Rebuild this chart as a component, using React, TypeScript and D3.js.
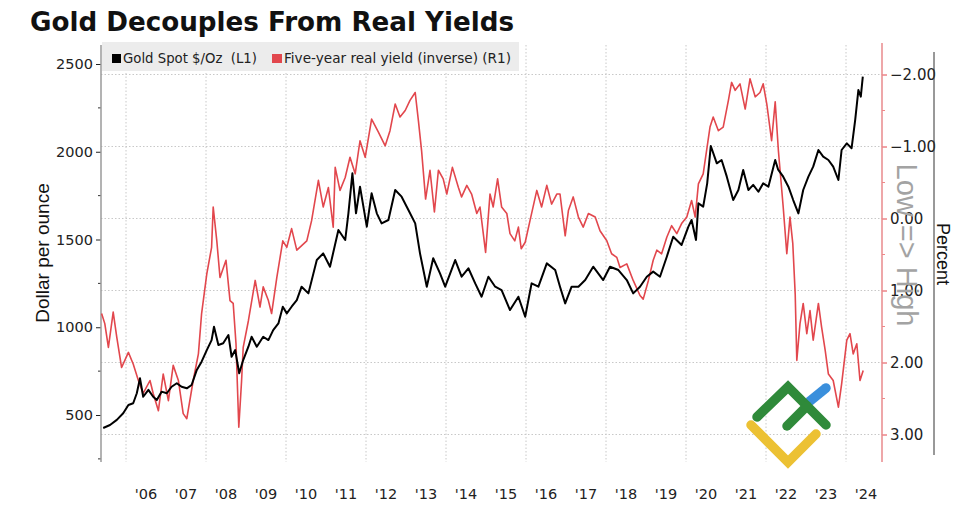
import * as d3 from "d3";
import { useEffect, useRef } from "react";

// Gold spot, $/oz (left axis) - decimal year / price
const goldDates = [
  2005.43, 2005.6, 2005.77, 2005.93, 2006.06, 2006.18, 2006.27, 2006.35, 2006.43, 2006.56,
  2006.68, 2006.77, 2006.89, 2007.02, 2007.14, 2007.27, 2007.39, 2007.52, 2007.64, 2007.77,
  2007.89, 2008.02, 2008.14, 2008.2, 2008.31, 2008.43, 2008.56, 2008.64, 2008.73, 2008.83,
  2008.93, 2009.06, 2009.14, 2009.27, 2009.43, 2009.56, 2009.68, 2009.81, 2009.92, 2010.02,
  2010.14, 2010.27, 2010.39, 2010.56, 2010.77, 2010.93, 2011.1, 2011.31, 2011.48, 2011.56,
  2011.66, 2011.75, 2011.85, 2012.02, 2012.14, 2012.27, 2012.39, 2012.56, 2012.73, 2012.89,
  2013.06, 2013.23, 2013.35, 2013.52, 2013.68, 2013.85, 2013.98, 2014.23, 2014.39, 2014.56,
  2014.73, 2014.89, 2015.06, 2015.23, 2015.39, 2015.6, 2015.81, 2015.98, 2016.14, 2016.31,
  2016.52, 2016.73, 2016.85, 2016.98, 2017.14, 2017.31, 2017.48, 2017.68, 2017.93, 2018.1,
  2018.31, 2018.52, 2018.68, 2018.85, 2019.02, 2019.18, 2019.35, 2019.52, 2019.68, 2019.89,
  2020.06, 2020.14, 2020.25, 2020.31, 2020.43, 2020.53, 2020.62, 2020.77, 2020.89, 2021.02,
  2021.18, 2021.31, 2021.43, 2021.56, 2021.68, 2021.81, 2021.93, 2022.06, 2022.23, 2022.3,
  2022.43, 2022.56, 2022.68, 2022.81, 2022.93, 2023.06, 2023.18, 2023.31, 2023.43, 2023.56,
  2023.68, 2023.81, 2023.89, 2024.02, 2024.14, 2024.23, 2024.31, 2024.37, 2024.42,
];
const goldPrices = [
  426, 443, 472, 510, 557, 567, 624, 709, 604, 643,
  604, 585, 633, 624, 661, 681, 661, 652, 671, 757,
  804, 870, 927, 1003, 899, 909, 956, 832, 870, 738,
  813, 889, 946, 889, 946, 927, 984, 1022, 1117, 1079,
  1117, 1155, 1231, 1193, 1383, 1421, 1345, 1554, 1497, 1649,
  1877, 1649, 1801, 1573, 1763, 1649, 1592, 1611, 1782, 1744,
  1668, 1592, 1421, 1231, 1393, 1307, 1231, 1383, 1288, 1336,
  1250, 1174, 1288, 1231, 1212, 1098, 1174, 1060, 1250, 1231,
  1364, 1326, 1231, 1136, 1231, 1231, 1269, 1345, 1269, 1345,
  1326, 1269, 1193, 1231, 1288, 1317, 1288, 1402, 1516, 1469,
  1573, 1611, 1497, 1706, 1687, 1820, 2033, 1934, 1953, 1858,
  1725, 1782, 1896, 1782, 1811, 1772, 1820, 1801, 1953, 1900,
  1858, 1801, 1725, 1649, 1782, 1858, 1915, 2010, 1972, 1953,
  1915, 1839, 2010, 2048, 2020, 2181, 2352, 2314, 2428,
];

// Five-year real yield, percent (right axis, inverted)
const yieldDates = [
  2005.39, 2005.47, 2005.56, 2005.68, 2005.77, 2005.89, 2006.06, 2006.18, 2006.31, 2006.43,
  2006.6, 2006.68, 2006.81, 2006.93, 2007.06, 2007.18, 2007.31, 2007.43, 2007.52, 2007.68,
  2007.81, 2007.89, 2008.02, 2008.14, 2008.18, 2008.27, 2008.35, 2008.5, 2008.6, 2008.68,
  2008.75, 2008.82, 2008.89, 2008.93, 2009.06, 2009.23, 2009.35, 2009.43, 2009.56, 2009.64,
  2009.77, 2009.92, 2010.02, 2010.14, 2010.27, 2010.52, 2010.64, 2010.81, 2010.93, 2011.06,
  2011.18, 2011.23, 2011.35, 2011.48, 2011.6, 2011.73, 2011.85, 2011.98, 2012.14, 2012.31,
  2012.48, 2012.6, 2012.73, 2012.85, 2012.98, 2013.1, 2013.23, 2013.31, 2013.39, 2013.49,
  2013.6, 2013.71, 2013.81, 2013.93, 2014.02, 2014.16, 2014.31, 2014.39, 2014.52, 2014.64,
  2014.77, 2014.85, 2014.99, 2015.1, 2015.18, 2015.29, 2015.39, 2015.52, 2015.6, 2015.72,
  2015.81, 2015.88, 2015.98, 2016.1, 2016.27, 2016.39, 2016.52, 2016.64, 2016.77, 2016.85,
  2016.98, 2017.06, 2017.18, 2017.31, 2017.43, 2017.56, 2017.73, 2017.85, 2018.02, 2018.14,
  2018.27, 2018.35, 2018.52, 2018.68, 2018.85, 2018.93, 2019.06, 2019.18, 2019.27, 2019.39,
  2019.52, 2019.64, 2019.77, 2019.89, 2020.02, 2020.14, 2020.23, 2020.31, 2020.43, 2020.6,
  2020.68, 2020.81, 2020.93, 2021.06, 2021.14, 2021.23, 2021.35, 2021.48, 2021.6, 2021.73,
  2021.85, 2021.93, 2022.02, 2022.14, 2022.23, 2022.31, 2022.43, 2022.52, 2022.6, 2022.67,
  2022.73, 2022.77, 2022.85, 2022.93, 2023.02, 2023.1, 2023.18, 2023.31, 2023.39, 2023.48,
  2023.56, 2023.68, 2023.81, 2023.89, 2024.02, 2024.1, 2024.18, 2024.27, 2024.35, 2024.43,
];
const yieldValues = [
  1.32, 1.46, 1.79, 1.3, 1.65, 2.07, 1.86, 2.02, 2.25, 2.43,
  2.25, 2.43, 2.67, 2.16, 2.53, 2.04, 2.25, 2.71, 2.78, 2.25,
  1.88, 1.32, 0.77, 0.4, -0.16, 0.31, 0.82, 0.58, 1.14, 1.18,
  1.74, 2.9, 2.25, 1.79, 1.42, 0.86, 1.23, 0.95, 1.14, 1.32,
  0.82, 0.31, 0.4, 0.14, 0.44, 0.31, 0.03, -0.53, -0.16, -0.43,
  0.12, -0.71, -0.39, -0.57, -0.85, -0.62, -1.08, -0.85, -1.38, -1.2,
  -1.01, -1.22, -1.59, -1.41, -1.5, -1.64, -1.75, -1.36, -0.94, -0.27,
  -0.67, -0.09, -0.67, -0.55, -0.34, -0.71, -0.43, -0.3, -0.46, -0.34,
  -0.07, -0.16, 0.47, -0.34, -0.16, -0.55, -0.16, -0.07, 0.21, 0.31,
  0.12, 0.42, 0.33, 0.03, -0.39, -0.16, -0.46, -0.2, -0.34, -0.34,
  0.24, -0.11, -0.3, -0.02, 0.12, -0.07, -0.02, 0.17, 0.31, 0.49,
  0.54, 0.68, 0.63, 0.86, 1.07, 1.12, 0.86, 0.58, 0.44, 0.49,
  0.26, 0.1, 0.21, 0.07, -0.02, -0.25, -0.02, -0.48, -0.62, -1.27,
  -1.41, -1.22, -1.27, -1.64, -1.89, -1.78, -1.87, -1.52, -1.94, -1.69,
  -1.75, -1.87, -1.59, -1.08, -1.62, -0.94, -0.16, 0.49, -0.02, 0.35,
  1.05, 1.97, 1.46, 1.18, 1.6, 1.28, 1.69, 1.18, 1.51, 1.83,
  2.16, 2.25, 2.62, 2.3, 1.69, 1.6, 1.88, 1.74, 2.25, 2.11,
];

const yearLabels = ["'06", "'07", "'08", "'09", "'10", "'11", "'12", "'13", "'14", "'15",
  "'16", "'17", "'18", "'19", "'20", "'21", "'22", "'23", "'24"];
const gridYears = [2006, 2008, 2010, 2012, 2014, 2016, 2018, 2020, 2022, 2024];
const leftTicks = [500, 1000, 1500, 2000, 2500];
const leftMinor = [250, 750, 1250, 1750, 2250];
const rightTicks = [-2, -1, 0, 1, 2, 3];
const rightMinor = [-1.5, -0.5, 0.5, 1.5, 2.5];

const W = 966, H = 506;
const plot = { left: 101, right: 882, top: 45, bottom: 462 };
const RED = "#e2474d";
const FONT = "'DejaVu Sans', Verdana, sans-serif";

function Chart() {
  const ref = useRef<SVGSVGElement | null>(null);

  useEffect(() => {
    if (!ref.current) return;
    const svg = d3.select(ref.current);
    svg.selectAll("*").remove();

    const x = d3.scaleLinear().domain([2005.375, 2024.9]).range([plot.left, plot.right]);
    const yL = d3.scaleLinear().domain([500, 2500]).range([415, 64]);
    const yR = d3.scaleLinear().domain([-2, 3]).range([74.5, 434.5]);

    svg.append("rect").attr("width", W).attr("height", H).attr("fill", "#fff");

    // title
    svg.append("text")
      .attr("x", 30).attr("y", 31)
      .attr("font-family", FONT).attr("font-weight", "bold").attr("font-size", 26)
      .attr("textLength", 484).attr("lengthAdjust", "spacingAndGlyphs")
      .attr("fill", "#111")
      .text("Gold Decouples From Real Yields");

    // grid
    const grid = svg.append("g").attr("stroke", "#c8c8c8").attr("stroke-dasharray", "1.5,2").attr("stroke-width", 1);
    grid.selectAll("line.v").data(gridYears).join("line")
      .attr("x1", d => x(d)).attr("x2", d => x(d))
      .attr("y1", plot.top).attr("y2", plot.bottom);
    grid.selectAll("line.h").data(rightTicks).join("line")
      .attr("x1", plot.left).attr("x2", plot.right)
      .attr("y1", d => yR(d)).attr("y2", d => yR(d));

    // legend box
    const lg = svg.append("g");
    lg.append("rect").attr("x", 102).attr("y", 42).attr("width", 417).attr("height", 29).attr("fill", "#ececec");
    lg.append("rect").attr("x", 112).attr("y", 54).attr("width", 9).attr("height", 9).attr("fill", "#000");
    lg.append("text").attr("x", 123).attr("y", 63).attr("font-family", FONT).attr("font-size", 13.5)
      .attr("textLength", 134).attr("lengthAdjust", "spacingAndGlyphs")
      .attr("fill", "#222").attr("xml:space", "preserve").text("Gold Spot $/Oz  (L1)");
    lg.append("rect").attr("x", 272).attr("y", 54).attr("width", 10).attr("height", 9).attr("fill", RED);
    lg.append("text").attr("x", 284).attr("y", 63).attr("font-family", FONT).attr("font-size", 13.5)
      .attr("textLength", 227).attr("lengthAdjust", "spacingAndGlyphs")
      .attr("fill", "#222").text("Five-year real yield (inverse) (R1)");

    // left axis
    const la = svg.append("g").attr("transform", `translate(${plot.left},0)`);
    la.call(d3.axisLeft(yL).tickValues(leftTicks).tickSize(5).tickPadding(3).tickFormat(d3.format("d")));
    la.select(".domain").remove();
    la.selectAll("text").attr("font-family", FONT).attr("font-size", 14.5).attr("fill", "#222");
    la.selectAll("line").attr("stroke", "#222");
    la.selectAll("line.minor").data(leftMinor).join("line")
      .attr("x1", -3).attr("x2", 0).attr("y1", d => yL(d)).attr("y2", d => yL(d)).attr("stroke", "#333");
    la.append("line").attr("y1", plot.top).attr("y2", plot.bottom).attr("stroke", "#9a9a9a").attr("stroke-width", 1.5);

    // right axis
    const ra = svg.append("g").attr("transform", `translate(${plot.right},0)`);
    ra.call(d3.axisRight(yR).tickValues(rightTicks).tickSize(5).tickPadding(3).tickFormat(d3.format(".2f")));
    ra.select(".domain").remove();
    ra.selectAll("text").attr("font-family", FONT).attr("font-size", 15).attr("fill", "#222");
    ra.selectAll("line").attr("stroke", RED);
    ra.selectAll("line.minor").data(rightMinor).join("line")
      .attr("x1", 0).attr("x2", 3).attr("y1", d => yR(d)).attr("y2", d => yR(d)).attr("stroke", "#e88");
    ra.append("line").attr("y1", plot.top - 2).attr("y2", plot.bottom).attr("stroke", "#e88a8c").attr("stroke-width", 1.5);

    // x labels (mid-year)
    svg.append("g").selectAll("text").data(yearLabels).join("text")
      .attr("x", (d, i) => x(2006.5 + i)).attr("y", 499)
      .attr("text-anchor", "middle")
      .attr("font-family", FONT).attr("font-size", 14.5).attr("fill", "#222")
      .text(d => d);

    // axis titles
    svg.append("text")
      .attr("transform", "translate(49,253) rotate(-90)")
      .attr("text-anchor", "middle")
      .attr("font-family", "'Liberation Sans', Arial, sans-serif").attr("font-size", 19).attr("fill", "#111")
      .text("Dollar per ounce");
    svg.append("text")
      .attr("transform", "translate(937,254) rotate(90)")
      .attr("text-anchor", "middle")
      .attr("font-family", "'Liberation Sans', Arial, sans-serif").attr("font-size", 18).attr("fill", "#111")
      .text("Percent");
    svg.append("text")
      .attr("transform", "translate(897,245) rotate(90)")
      .attr("text-anchor", "middle")
      .attr("font-family", "'Liberation Sans', Arial, sans-serif").attr("font-size", 29).attr("fill", "#a3a3a3")
      .text("Low => High");
    svg.append("line").attr("x1", 934).attr("x2", 934).attr("y1", 52).attr("y2", 455)
      .attr("stroke", "#333").attr("stroke-width", 1);

    // series
    const yieldLine = d3.line<number>().x((_, i) => x(yieldDates[i])).y(d => yR(d));
    svg.append("path").datum(yieldValues).attr("d", yieldLine)
      .attr("fill", "none").attr("stroke", RED).attr("stroke-width", 1.6).attr("stroke-linejoin", "round");
    const goldLine = d3.line<number>().x((_, i) => x(goldDates[i])).y(d => yL(d));
    svg.append("path").datum(goldPrices).attr("d", goldLine)
      .attr("fill", "none").attr("stroke", "#000").attr("stroke-width", 2).attr("stroke-linejoin", "round");

    // watermark logo
    const logo = svg.append("g").attr("fill", "none").attr("stroke-linecap", "round").attr("stroke-width", 9.5);
    logo.append("path").attr("d", "M751,425 L788,462 L816,434").attr("stroke", "#ecc133");
    logo.append("path").attr("d", "M810,401 L826,388").attr("stroke", "#3a8fdc");
    logo.append("path").attr("d", "M757,417 L788,387 L826,425").attr("stroke", "#2f8a3a");
    logo.append("path").attr("d", "M787,426 L807,406").attr("stroke", "#2f8a3a");
  }, []);

  return <svg ref={ref} width={W} height={H} style={{ position: "absolute", left: 0, top: 0 }} />;
}

export default function App() {
  return <Chart />;
}
